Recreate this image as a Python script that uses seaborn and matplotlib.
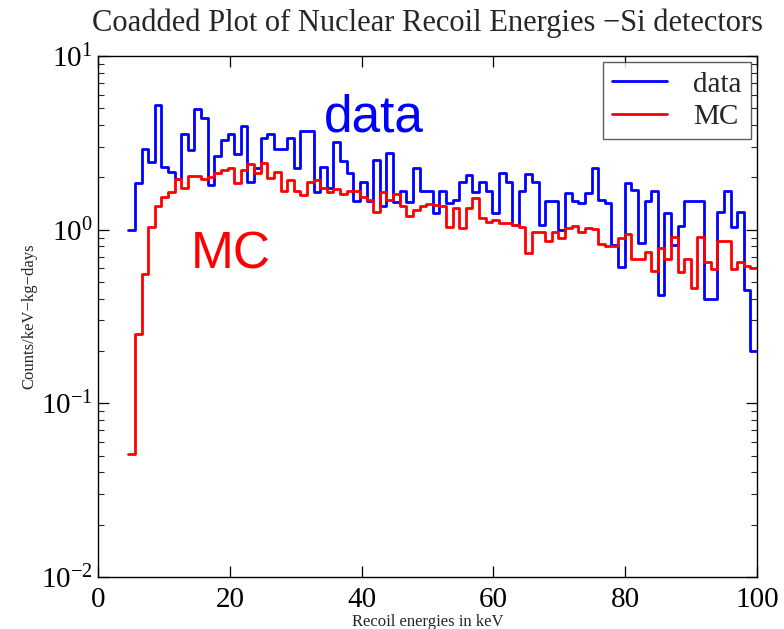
import numpy as np
import pandas as pd
import matplotlib
matplotlib.use("Agg")
import matplotlib.pyplot as plt
import seaborn as sns

# Energy bins (keV): 95 bins of ~1 keV spanning the recoil window
bin_lo = 4.6
bin_hi = 100.0
n_bins = 95

# Measured counts/keV-kg-days per bin
data_rate = [
    1.0, 1.85, 2.91, 2.46, 5.2, 2.3, 2.14, 1.97, 3.54, 2.88,
    4.93, 4.41, 1.81, 2.67, 3.28, 3.54, 2.71, 3.97, 1.87, 2.25,
    3.36, 3.54, 2.91, 2.91, 3.36, 2.25, 3.71, 3.71, 1.65, 2.3,
    1.74, 3.18, 2.49, 2.11, 1.46, 1.89, 1.46, 2.52, 1.36, 2.75,
    1.45, 1.67, 1.45, 2.27, 1.67, 1.68, 1.24, 1.67, 1.42, 1.48,
    1.89, 2.07, 1.64, 1.89, 1.67, 1.24, 2.11, 1.89, 1.06, 1.67,
    2.09, 1.89, 1.06, 1.46, 1.46, 1.0, 1.63, 1.46, 1.43, 1.62,
    2.27, 1.48, 1.43, 0.82, 0.61, 1.85, 1.7, 0.84, 1.46, 1.68,
    0.42, 1.24, 0.82, 1.05, 1.46, 1.46, 1.46, 0.40, 0.40, 1.27,
    1.68, 1.03, 1.26, 0.45, 0.2,
]

# Monte Carlo expectation per bin
mc_rate = [
    0.051, 0.25, 0.555, 1.04, 1.36, 1.55, 1.64, 1.96, 1.74, 2.04,
    2.04, 1.96, 2.02, 2.11, 2.2, 2.25, 1.85, 2.2, 2.38, 2.11,
    2.41, 1.99, 2.16, 1.67, 1.93, 1.67, 1.58, 1.89, 1.93, 1.73,
    1.65, 1.72, 1.6, 1.67, 1.67, 1.55, 1.48, 1.27, 1.65, 1.48,
    1.6, 1.36, 1.2, 1.3, 1.37, 1.4, 1.39, 1.36, 1.04, 1.33,
    1.02, 1.34, 1.53, 1.16, 1.11, 1.13, 1.09, 1.09, 1.06, 1.04,
    0.73, 0.97, 0.97, 0.86, 0.97, 0.9, 1.02, 1.05, 0.97, 1.02,
    1.01, 0.83, 0.8, 0.81, 0.89, 0.95, 0.68, 0.68, 0.74, 0.58,
    0.78, 0.68, 0.91, 0.57, 0.68, 0.46, 0.91, 0.65, 0.59, 0.86,
    0.86, 0.59, 0.65, 0.62, 0.6,
]

x_ticks = [0, 20, 40, 60, 80, 100]
title = "Coadded Plot of Nuclear Recoil Energies \u2212Si detectors"
x_label = "Recoil energies in keV"
y_label = "Counts/keV\u2212kg\u2212days"

sns.set_theme(style="ticks")
plt.rcParams["font.family"] = ["Liberation Serif", "DejaVu Serif"]
plt.rcParams["mathtext.fontset"] = "stix"

edges = np.linspace(bin_lo, bin_hi, n_bins + 1)
centers = 0.5 * (edges[:-1] + edges[1:])
df = pd.DataFrame({"energy": centers, "data": data_rate, "mc": mc_rate})

fig = plt.figure(figsize=(7.84, 6.29), dpi=100)
ax = fig.add_axes([0.125, 0.0827, 0.8406, 0.8283])

sns.histplot(data=df, x="energy", weights="data", bins=list(edges),
             element="step", fill=False, color="#0000ff", linewidth=2.0,
             label="data", ax=ax)
sns.histplot(data=df, x="energy", weights="mc", bins=list(edges),
             element="step", fill=False, color="#ff0000", linewidth=2.0,
             label="MC", ax=ax)

ax.set_yscale("log")
ax.set_ylim(1e-2, 1e1)
ax.set_xlim(0, 100)
ax.set_xticks(x_ticks)
ax.set_xticklabels([str(t) for t in x_ticks])

ax.tick_params(axis="both", which="major", direction="in", length=8, width=0.9,
               top=True, right=True, labelsize=21, colors="black")
ax.tick_params(axis="x", which="major", pad=7)
ax.tick_params(axis="y", which="major", pad=4)
ax.tick_params(axis="y", which="minor", direction="in", length=4, width=0.8,
               left=True, right=True)
for s in ax.spines.values():
    s.set_color("black")
    s.set_linewidth(1.0)

ax.set_title(title, fontsize=22, pad=18)
ax.set_xlabel(x_label, fontsize=12, labelpad=1)
ax.set_ylabel(y_label, fontsize=12, labelpad=2)

# Large in-plot tags for each curve
ax.text(34.2, 3.67, "data", color="#0000ff", fontsize=37,
        family="Liberation Sans", ha="left", va="baseline")
ax.text(14.0, 0.60, "MC", color="#ff0000", fontsize=37,
        family="Liberation Sans", ha="left", va="baseline")

leg = ax.legend(loc="upper right", fontsize=21, frameon=True, fancybox=False,
                handlelength=1.9, borderpad=0.3, labelspacing=0.2,
                handletextpad=0.9, borderaxespad=0.22)
leg.get_frame().set_edgecolor("#333333")
leg.get_frame().set_linewidth(1.0)

fig.savefig("out.png", dpi=100)
